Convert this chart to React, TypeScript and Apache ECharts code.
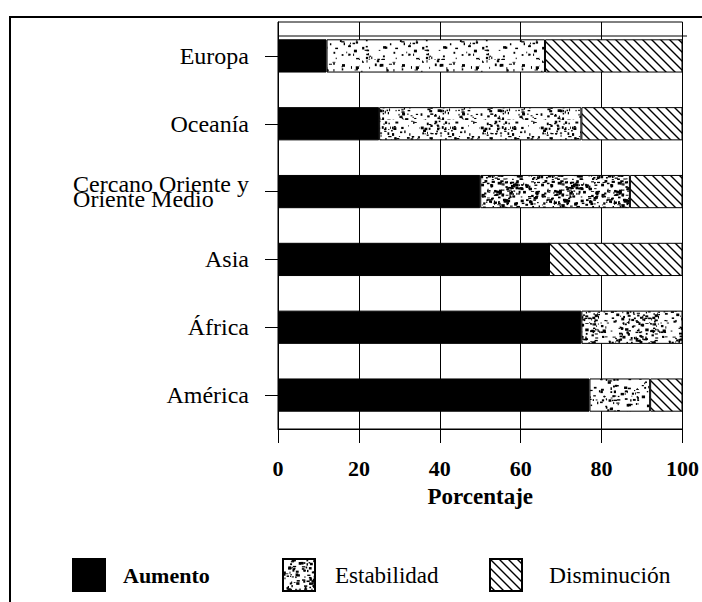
import React, { useEffect, useRef } from 'react';
import * as echarts from 'echarts';

const categories = ['Europa', 'Oceanía', 'Cercano Oriente y\nOriente Medio', 'Asia', 'África', 'América'];
const aumento = [12, 25, 50, 67, 75, 77];
const estabilidad = [54, 50, 37, 0, 25, 15];
const disminucion = [34, 25, 13, 33, 0, 8];
const axisName = 'Porcentaje';

// texture styles (not data)
const stippleDensity = [0.14, 0.24, 0.42, 0.3, 0.3, 0.2];
const FONT = "'Liberation Serif', 'Times New Roman', serif";

function makeStipple(density: number, seed: number) {
  const size = 60;
  const c = document.createElement('canvas');
  c.width = size;
  c.height = size;
  const ctx = c.getContext('2d')!;
  ctx.fillStyle = '#fff';
  ctx.fillRect(0, 0, size, size);
  let s = seed;
  const rnd = () => {
    s = (s * 1664525 + 1013904223) % 4294967296;
    return s / 4294967296;
  };
  ctx.fillStyle = '#000';
  const n = Math.round((size * size * density) / 4);
  for (let i = 0; i < n; i++) {
    const x = rnd() * size;
    const y = rnd() * size;
    const w = 0.8 + rnd() * 2.6;
    const h = 0.8 + rnd() * 2;
    ctx.fillRect(x, y, w, h);
  }
  return { image: c, repeat: 'repeat', imageWidth: size, imageHeight: size };
}

function makeHatch() {
  const t = 9;
  const c = document.createElement('canvas');
  c.width = t;
  c.height = t;
  const ctx = c.getContext('2d')!;
  ctx.fillStyle = '#fff';
  ctx.fillRect(0, 0, t, t);
  ctx.strokeStyle = '#000';
  ctx.lineWidth = 1.4;
  ctx.beginPath();
  for (const k of [-1, 0, 1]) {
    ctx.moveTo(k * t - 1, -1);
    ctx.lineTo(k * t + t + 1, t + 1);
  }
  ctx.stroke();
  return { image: c, repeat: 'repeat', imageWidth: t, imageHeight: t };
}

export default function App() {
  const ref = useRef<HTMLDivElement>(null);
  useEffect(() => {
    const chart = echarts.init(ref.current!, null, { renderer: 'svg' });
    const stipples = stippleDensity.map((d, i) => makeStipple(d, 1234 + i * 777));
    const legendStipple = makeStipple(0.34, 98765);
    const hatch = makeHatch();
    const border = { borderColor: '#000', borderWidth: 1 };
    const legendBase = {
      orient: 'horizontal',
      top: 558,
      padding: 0,
      itemWidth: 32,
      itemHeight: 32,
      icon: 'rect',
      selectedMode: false,
    };
    const option: any = {
      animation: false,
      backgroundColor: '#fff',
      grid: {
        left: 278,
        width: 409,
        top: 22,
        height: 407,
        show: true,
        borderColor: '#000',
        borderWidth: 1,
        backgroundColor: 'transparent',
      },
      xAxis: {
        type: 'value',
        min: 0,
        max: 100,
        interval: 20,
        name: axisName,
        nameLocation: 'middle',
        nameGap: 56,
        nameTextStyle: { fontFamily: FONT, fontSize: 23, fontWeight: 'bold', color: '#000' },
        axisLine: { show: true, lineStyle: { color: '#000', width: 1 } },
        axisTick: { show: true, length: 14, lineStyle: { color: '#000', width: 1 } },
        axisLabel: { margin: 28, fontFamily: FONT, fontSize: 22, fontWeight: 'bold', color: '#000' },
        splitLine: { show: true, lineStyle: { color: '#000', width: 1 } },
      },
      yAxis: {
        type: 'category',
        data: categories,
        inverse: true,
        axisLine: { show: true, lineStyle: { color: '#000', width: 1 } },
        axisTick: { show: true, alignWithLabel: true, length: 13, lineStyle: { color: '#000', width: 1 } },
        axisLabel: {
          margin: 29,
          fontFamily: FONT,
          fontSize: 24,
          color: '#000',
          formatter: (v: string) =>
            v.indexOf('\n') >= 0 ? v.split('\n').map((s) => `{m|${s}}`).join('\n') : v,
          rich: {
            m: { align: 'left', fontFamily: FONT, fontSize: 24, lineHeight: 15, color: '#000' },
          },
        },
        splitLine: { show: false },
      },
      legend: [
        {
          ...legendBase,
          left: 72,
          data: [{ name: 'Aumento' }],
          textStyle: { fontFamily: FONT, fontSize: 22, fontWeight: 'bold', color: '#000', padding: [0, 0, 0, 13] },
        },
        {
          ...legendBase,
          left: 282,
          data: [{ name: 'Estabilidad' }],
          textStyle: { fontFamily: FONT, fontSize: 23, color: '#000', padding: [0, 0, 0, 15] },
        },
        {
          ...legendBase,
          left: 489,
          data: [{ name: 'Disminución' }],
          textStyle: { fontFamily: FONT, fontSize: 23.5, color: '#000', padding: [0, 0, 0, 22] },
        },
      ],
      series: [
        {
          name: 'Aumento',
          type: 'bar',
          stack: 'total',
          barWidth: '49%',
          data: aumento,
          itemStyle: { color: '#000', ...border },
        },
        {
          name: 'Estabilidad',
          type: 'bar',
          stack: 'total',
          barWidth: '49%',
          data: estabilidad.map((v, i) => ({ value: v, itemStyle: { color: stipples[i] } })),
          itemStyle: { color: legendStipple, ...border },
        },
        {
          name: 'Disminución',
          type: 'bar',
          stack: 'total',
          barWidth: '49%',
          data: disminucion,
          itemStyle: { color: hatch, ...border },
        },
      ],
      graphic: [
        {
          type: 'rect',
          shape: { x: 10, y: 17, width: 760, height: 640 },
          style: { fill: 'none', stroke: '#000', lineWidth: 2 },
          silent: true,
        },
        {
          type: 'line',
          shape: { x1: 278, y1: 36, x2: 687, y2: 36 },
          style: { stroke: '#000', lineWidth: 1 },
          silent: true,
        },
      ],
    };
    chart.setOption(option);
    return () => chart.dispose();
  }, []);
  return (
    <div
      ref={ref}
      style={{ position: 'fixed', left: 0, top: 0, width: 702, height: 602, background: '#fff' }}
    />
  );
}
